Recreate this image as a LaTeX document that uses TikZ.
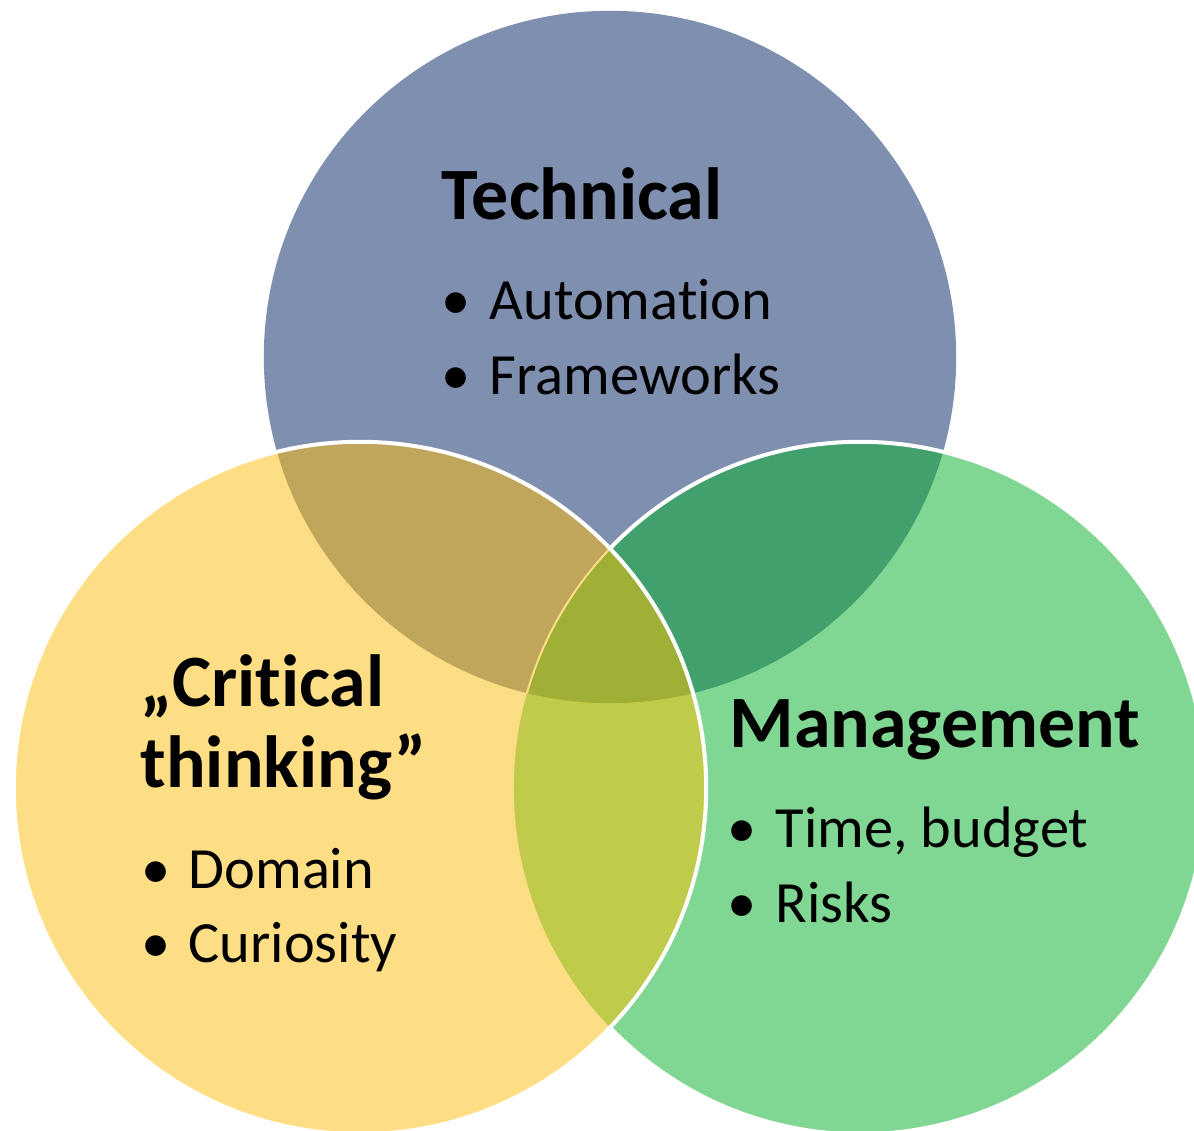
\documentclass[tikz,border=0pt]{standalone}
\usepackage{fontspec}
\setmainfont{Carlito}[Ligatures={NoCommon}]
\definecolor{techblue}{HTML}{7F8FAF}
\definecolor{crityellow}{HTML}{FEDE84}
\definecolor{mgmtgreen}{HTML}{80D793}
\definecolor{techcrit}{HTML}{C0A65A}
\definecolor{techmgmt}{HTML}{42A06D}
\definecolor{critmgmt}{HTML}{C1CB4B}
\definecolor{allthree}{HTML}{A0AF36}
\begin{document}
\begin{tikzpicture}
		[x=0.01cm, y=-0.01cm,
		title/.style={anchor=base west, inner sep=0pt,
			font=\fontsize{21}{22.8}\selectfont\bfseries},
		item/.style={anchor=base west, inner sep=0pt,
			font=\fontsize{16.6}{20}\selectfont},
		ring/.style={draw=white, line width=0.04cm}]
		\useasboundingbox (0,0) rectangle (1194,1131);
		\clip (0,0) rectangle (1194,1131);
		\coordinate (tech) at (610,357);
		\coordinate (crit) at (360,788);
		\coordinate (mgmt) at (860,788);
		% circles and overlaps
		\fill[techblue] (tech) circle (3.46cm);
		\fill[mgmtgreen] (mgmt) circle (3.46cm);
		\begin{scope}
			\clip (tech) circle (3.46cm);
			\fill[techmgmt] (mgmt) circle (3.46cm);
		\end{scope}
		\draw[ring] (mgmt) circle (3.46cm);
		\fill[crityellow] (crit) circle (3.46cm);
		\begin{scope}
			\clip (crit) circle (3.46cm);
			\fill[techcrit] (tech) circle (3.46cm);
			\fill[critmgmt] (mgmt) circle (3.46cm);
			\clip (tech) circle (3.46cm);
			\fill[allthree] (mgmt) circle (3.46cm);
			\draw[crityellow, line width=0.02cm] (mgmt) circle (3.46cm);
		\end{scope}
		\draw[ring] (crit) circle (3.46cm);
		% texts
		\node[title] (techtitle) at (441,220) {Technical};
		\node[item] (auto) at (441,320) {\makebox[0.48cm][l]{•}Automation};
		\node[item] (frame) at (441,395) {\makebox[0.48cm][l]{•}Frameworks};
		\node[title, align=left] (crittitle) at (140,787)
			{„Critical\\thinking”};
		\node[item] (domain) at (141,888) {\makebox[0.47cm][l]{•}Domain};
		\node[item] (curio) at (141,962) {\makebox[0.47cm][l]{•}Curiosity};
		\node[title] (mgmttitle) at (729,747) {Management};
		\node[item] (time) at (727,847) {\makebox[0.48cm][l]{•}Time, budget};
		\node[item] (risks) at (727,922) {\makebox[0.48cm][l]{•}Risks};
	\end{tikzpicture}
\end{document}
